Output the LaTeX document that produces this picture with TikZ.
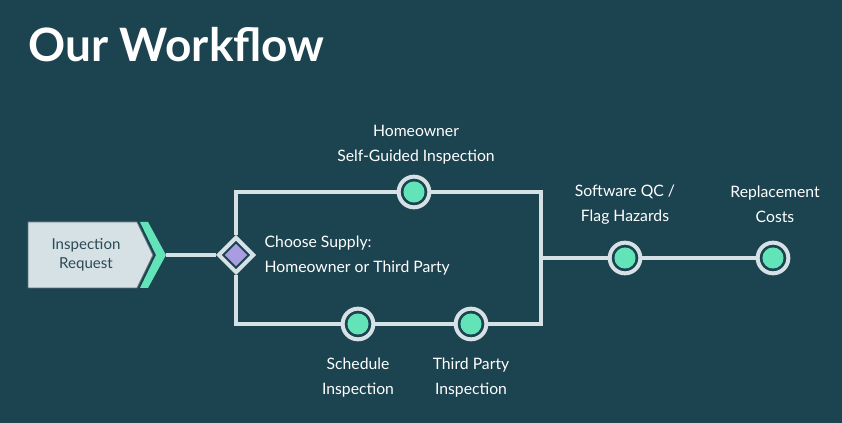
\documentclass[tikz,border=0pt]{standalone}
\usepackage{fontspec}
\setmainfont{Lato}
\usepackage{xcolor}
\usetikzlibrary{shapes.geometric}

\definecolor{bg}{HTML}{1C4350}
\definecolor{track}{HTML}{D5E1E5}
\definecolor{mint}{HTML}{62E3B8}
\definecolor{lilac}{HTML}{A99CE0}
\definecolor{boxtext}{HTML}{2B4A56}
\definecolor{boxline}{HTML}{5F747B}

\begin{document}
\begin{tikzpicture}[x=0.75pt, y=-0.75pt,
  flow/.style={draw=track, line width=2.6pt},
  stop/.style={circle, draw=track, line width=3pt, fill=bg,
    minimum size=23pt, inner sep=0pt,
    path picture={\fill[mint] (path picture bounding box.center) circle (7.9pt);}},
  choice/.style={diamond, aspect=1, draw=track, line width=3pt, fill=bg,
    minimum size=27pt, inner sep=0pt,
    path picture={\fill[lilac] (path picture bounding box.center)
      +(8.3pt,0) -- +(0,8.3pt) -- +(-8.3pt,0) -- +(0,-8.3pt) -- cycle;}},
  lbl/.style={text=white, align=center, font=\fontsize{11.8}{18.75}\selectfont},
]
  \fill[bg] (0,0) rectangle (842,423);
  \useasboundingbox (0,0) rectangle (842,423);

  \node[anchor=base west, text=white, font=\fontsize{34.5}{40}\selectfont\bfseries]
    (title) at (24,62) {Our Workflow};

  % request box with its chevron
  \draw[fill=track, draw=boxline, line width=0.6pt]
    (28,222) -- (137,222) -- (153,255) -- (137,288) -- (28,288) -- cycle;
  \fill[mint]
    (140,222) -- (148,222) -- (166,255) -- (148,288) -- (140,288) -- (156,255) -- cycle;
  \coordinate (tip) at (166,255);
  \node[text=boxtext, align=center, font=\fontsize{11.3}{14.6}\selectfont]
    (request) at (86,255) {Inspection\\Request};

  \node[choice] (supply) at (236,255) {};
  \node[stop] (selfguided) at (414,192) {};
  \node[stop] (schedule) at (358,324) {};
  \node[stop] (thirdparty) at (471,324) {};
  \coordinate (merge) at (541,258);
  \node[stop] (software) at (625,258) {};
  \node[stop] (costs) at (773,258) {};

  \draw[flow] (tip) -- (supply.west);
  \draw[flow] (supply.north) |- (selfguided.west);
  \draw[flow] (selfguided.east) -| (merge);
  \draw[flow] (supply.south) |- (schedule.west);
  \draw[flow] (schedule.east) -- (thirdparty.west);
  \draw[flow] (thirdparty.east) -| (merge);
  \draw[flow] (merge) -- (software.west);
  \draw[flow] (software.east) -- (costs.west);

  % labels
  \node[lbl] (selfguided label) at (416,145) {Homeowner\\Self-Guided Inspection};
  \node[lbl, anchor=west, align=left] (supply label) at (260,256)
    {Choose Supply:\\Homeowner or Third Party};
  \node[lbl] (software label) at (625,205) {Software QC /\\Flag Hazards};
  \node[lbl] (costs label) at (775,204) {Replacement\\Costs};
  \node[lbl] (schedule label) at (358,378) {Schedule\\Inspection};
  \node[lbl] (thirdparty label) at (471,378) {Third Party\\Inspection};
\end{tikzpicture}
\end{document}
